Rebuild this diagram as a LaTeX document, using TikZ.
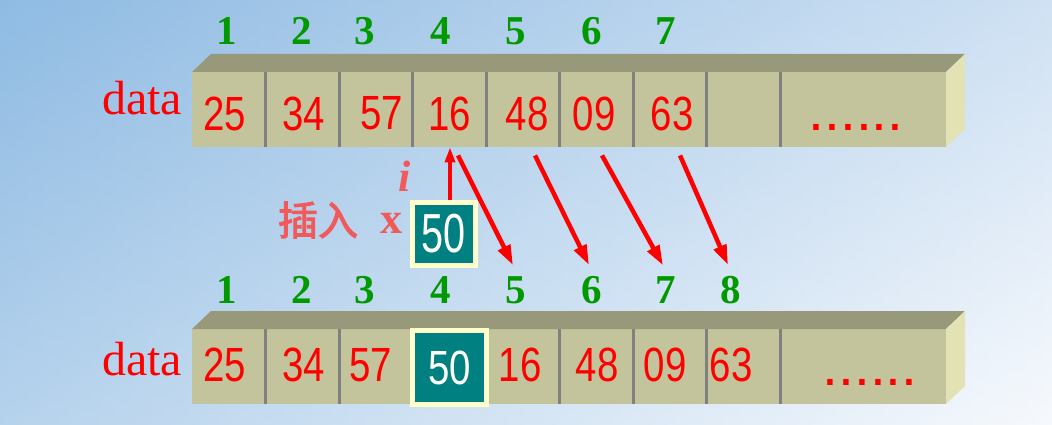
\documentclass[tikz,border=0pt]{standalone}
\usepackage{fontspec}
\setmainfont{Liberation Serif}
\newfontfamily\arial{Liberation Sans}
\newfontfamily\arialn{Liberation Sans}[FakeStretch=0.8]
\newfontfamily\arialnn{Liberation Sans}[FakeStretch=0.72]
\newfontfamily\cjk{Noto Sans CJK SC}[AutoFakeBold=2.5]
\usetikzlibrary{arrows.meta,calc,positioning}

\definecolor{frontc}{HTML}{C3C49C}
\definecolor{topc}{HTML}{98987A}
\definecolor{sidec}{HTML}{E2E2B4}
\definecolor{cellteal}{HTML}{008080}
\definecolor{rimc}{HTML}{FFFFCC}
\definecolor{idxgreen}{HTML}{009A00}
\definecolor{pinkred}{HTML}{F05A5A}
\definecolor{skyblue}{HTML}{8FBBE3}
\definecolor{skywhite}{HTML}{F2F6FC}

\tikzset{
  val/.style={font=\arialn\fontsize{48}{48}\selectfont, text=red, inner sep=0pt, minimum height=67pt},
  idx/.style={font=\bfseries\fontsize{41}{41}\selectfont, text=idxgreen, inner sep=0pt},
  datalabel/.style={font=\fontsize{48}{48}\selectfont, text=red, anchor=base},
  dots/.style={font=\arial\fontsize{57}{57}\selectfont, text=red, anchor=base},
  divider/.style={draw=gray, line width=3pt},
  newbox/.style={fill=cellteal, draw=rimc, line width=5pt, text=white, inner sep=0pt},
  shiftarrow/.style={draw=red, line width=4.5pt, -{Triangle[length=20pt,width=13pt]}},
  insertarrow/.style={draw=red, line width=3.5pt, -{Triangle[length=15pt,width=10pt]}},
}

\begin{document}
\begin{tikzpicture}[x=1pt, y=-1pt]
  \useasboundingbox (0,0) rectangle (1052,425);
  \shade[left color=skyblue, right color=skywhite] (0,0) rectangle (1052,425);
  \shade[top color=skyblue, bottom color=white, fill opacity=0.35] (0,0) rectangle (1052,425);

  \foreach \y in {72,329} {
    \fill[frontc] (192,\y) rectangle (946,\y+75);
    \fill[topc] (192,\y) -- (211,\y-18) -- (965,\y-18) -- (946,\y) -- cycle;
    \fill[sidec] (946,\y) -- (965,\y-18) -- (965,\y+57) -- (946,\y+75) -- cycle;
    \foreach \x in {265.5,339,412.5,486,559.5,633,706.5,780}
      \draw[divider] (\x,\y) -- (\x,\y+75);
  }

  \node[datalabel] (tdata) at (142,115) {data};
  \node[datalabel] (bdata) at (142,375) {data};

  \foreach \n/\x in {1/226.5,2/302,3/365,4/441,5/516,6/592,7/666}
    \node[idx] (ti\n) at (\x,31) {\n};
  \foreach \n/\x in {1/226.5,2/302,3/365,4/441,5/516,6/592,7/666,8/731}
    \node[idx] (bi\n) at (\x,290) {\n};

  \foreach \n/\v/\x in {1/25/225,2/34/303.5,3/57/381.5,4/16/450,5/48/527,6/09/594,7/63/672}
    \node[val] (t\n) at (\x,113.7) {\v};
  \node[dots] (tdots) at (856,131) {......};

  \node[newbox, minimum size=74pt, font=\arialn\fontsize{48}{48}\selectfont] (b4) at (449.5,367.5) {50};
  \foreach \n/\v/\x in {1/25/225,2/34/303.5,3/57/371,5/16/520,6/48/597,7/09/665,8/63/731}
    \node[val] (b\n) at (\x,365) {\v};
  \node[dots] (bdots) at (870,385) {......};

  \node[newbox, minimum size=63pt, font=\arialnn\fontsize{55}{55}\selectfont] (ins) at (444,234) {50};
  \node[font=\bfseries\fontsize{44}{44}\selectfont, text=pinkred] (xlabel) at (391,223) {x};
  \node[font=\cjk\bfseries\fontsize{40}{40}\selectfont, text=pinkred] (inslabel) at (318,220) {插入};
  \node[font=\bfseries\itshape\fontsize{44}{44}\selectfont, text=pinkred] (ilabel) at (405,176) {i};

  \draw[insertarrow] ([xshift=6pt]ins.north) -- (t4.south);
  \foreach \s/\e in {4/5,5/6,6/7,7/8}
    \draw[shiftarrow] ($(t\s.south)+(8,8)$) -- ($(bi\e.north)+(-3,-11)$);
\end{tikzpicture}
\end{document}
